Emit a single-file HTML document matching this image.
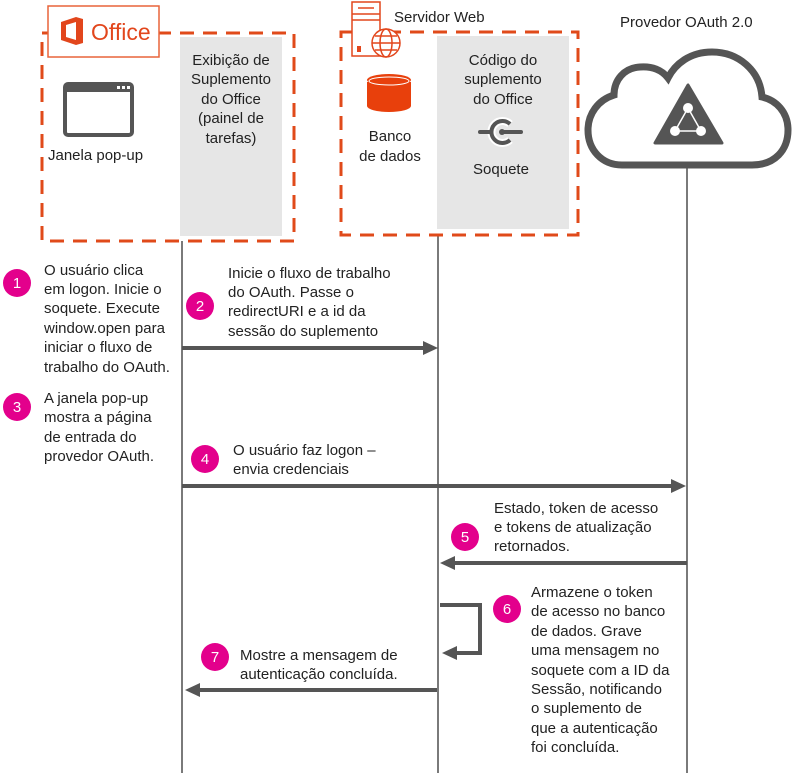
<!DOCTYPE html>
<html><head><meta charset="utf-8"><style>
html,body{margin:0;padding:0;background:#fff;}
svg{display:block;font-family:"Liberation Sans",sans-serif;}
</style></head><body>
<svg width="798" height="773" viewBox="0 0 798 773" xmlns="http://www.w3.org/2000/svg">
<!-- lifelines -->
<g stroke="#333" stroke-width="1.3">
<line x1="182" y1="241" x2="182" y2="773"/>
<line x1="438" y1="235" x2="438" y2="773"/>
<line x1="687" y1="168" x2="687" y2="773"/>
</g>
<!-- Office box -->
<rect x="180" y="37" width="102" height="199" fill="#e6e6e6"/>
<rect x="42" y="33" width="252" height="208" fill="none" stroke="#e04a1a" stroke-width="3" stroke-dasharray="14,9"/>
<rect x="48" y="6" width="111" height="51" fill="#fff" stroke="#e8643a" stroke-width="1.5"/>
<path d="M61,22 L76,17 L83,19 L83,43 L76,45 L61,40 Z M66,25 L66,37 L76,40 L76,22 Z" fill="#e2461c" fill-rule="evenodd"/>
<text x="91" y="40" font-size="23" fill="#e2461c">Office</text>
<!-- popup icon -->
<rect x="65" y="84" width="67" height="51" rx="3" fill="#fff" stroke="#555" stroke-width="4"/>
<rect x="65" y="84" width="67" height="8" fill="#555"/>
<rect x="117" y="86" width="3" height="3" fill="#fff"/><rect x="122" y="86" width="3" height="3" fill="#fff"/><rect x="127" y="86" width="3" height="3" fill="#fff"/>
<text x="48" y="160" font-size="15" fill="#222">Janela pop-up</text>
<g font-size="15" fill="#222" text-anchor="middle">
<text x="231" y="65">Exibição de</text>
<text x="231" y="84">Suplemento</text>
<text x="231" y="104">do Office</text>
<text x="231" y="123">(painel de</text>
<text x="231" y="143">tarefas)</text>
</g>
<!-- Server box -->
<rect x="437" y="36" width="132" height="193" fill="#e6e6e6"/>
<rect x="341" y="32" width="237" height="203" fill="none" stroke="#e04a1a" stroke-width="3" stroke-dasharray="14,9"/>
<rect x="352" y="2" width="28" height="54" fill="#fff" stroke="#e2461c" stroke-width="1.5"/>
<line x1="358" y1="8" x2="374" y2="8" stroke="#e2461c" stroke-width="1.5"/>
<line x1="352" y1="14" x2="380" y2="14" stroke="#e2461c" stroke-width="1.5"/>
<line x1="352" y1="20" x2="380" y2="20" stroke="#e2461c" stroke-width="1.5"/>
<rect x="357" y="46" width="4" height="6" fill="#e2461c"/>
<circle cx="386" cy="43" r="14" fill="#fff" stroke="#e2461c" stroke-width="1.5"/>
<ellipse cx="386" cy="43" rx="6" ry="14" fill="none" stroke="#e2461c" stroke-width="1.5"/>
<line x1="372" y1="43" x2="400" y2="43" stroke="#e2461c" stroke-width="1.5"/>
<line x1="375" y1="36" x2="397" y2="36" stroke="#e2461c" stroke-width="1.5"/>
<line x1="375" y1="50" x2="397" y2="50" stroke="#e2461c" stroke-width="1.5"/>
<text x="394" y="22" font-size="15" fill="#222">Servidor Web</text>
<!-- database -->
<path d="M367,82 L367,106 A22,6 0 0 0 411,106 L411,82 Z" fill="#e8400c"/>
<ellipse cx="389" cy="80" rx="22" ry="6" fill="#e8400c"/>
<ellipse cx="389" cy="81" rx="20" ry="4" fill="none" stroke="#fff" stroke-width="1"/>
<text x="390" y="141" font-size="15" fill="#222" text-anchor="middle">Banco</text>
<text x="390" y="161" font-size="15" fill="#222" text-anchor="middle">de dados</text>
<g font-size="15" fill="#222" text-anchor="middle">
<text x="503" y="65">Código do</text>
<text x="503" y="84">suplemento</text>
<text x="503" y="104">do Office</text>
<text x="501" y="174">Soquete</text>
</g>
<!-- socket icon -->
<path d="M510,124 A11,11 0 1 0 510,140" fill="none" stroke="#fff" stroke-width="8"/>
<path d="M510,124 A11,11 0 1 0 510,140" fill="none" stroke="#555" stroke-width="4"/>
<line x1="480" y1="132" x2="490" y2="132" stroke="#555" stroke-width="4" stroke-linecap="round"/>
<line x1="502" y1="132" x2="521" y2="132" stroke="#555" stroke-width="4" stroke-linecap="round"/>
<circle cx="502" cy="132" r="3" fill="#555"/>
<!-- OAuth -->
<text x="620" y="27" font-size="15" fill="#222">Provedor OAuth 2.0</text>
<path d="M622,165 H752 C775,165 788,150 788,130 C788,112 776,100 762,97 C760,70 738,52 712,52 C690,52 675,64 668,78 C662,70 652,66 640,67 C624,68 614,80 614,95 C598,100 588,114 588,130 C588,150 602,165 622,165 Z" fill="#fff" stroke="#555" stroke-width="7"/>
<path d="M688,85 L655,143 L722,143 Z" fill="#555" stroke="#555" stroke-width="3" stroke-linejoin="round"/>
<circle cx="688" cy="108" r="5" fill="#fff"/><circle cx="675" cy="131" r="5" fill="#fff"/><circle cx="701" cy="131" r="5" fill="#fff"/>
<g stroke="#fff" stroke-width="1.5"><line x1="688" y1="108" x2="675" y2="131"/><line x1="688" y1="108" x2="701" y2="131"/><line x1="675" y1="131" x2="701" y2="131"/></g>
<!-- arrows -->
<g stroke="#555" stroke-width="4" fill="none">
<line x1="182" y1="348" x2="426" y2="348"/>
<line x1="182" y1="486" x2="675" y2="486"/>
<line x1="687" y1="563" x2="452" y2="563"/>
<polyline points="440,605 480,605 480,653 455,653"/>
<line x1="437" y1="690" x2="197" y2="690"/>
</g>
<g fill="#555">
<path d="M438,348 L423,341 L423,355 Z"/>
<path d="M686,486 L671,479 L671,493 Z"/>
<path d="M440,563 L455,556 L455,570 Z"/>
<path d="M442,653 L457,646 L457,660 Z"/>
<path d="M185,690 L200,683 L200,697 Z"/>
</g>
<!-- circles -->
<g fill="#e3008c">
<circle cx="17" cy="283" r="14"/><circle cx="200" cy="306" r="14"/><circle cx="17" cy="407" r="14"/>
<circle cx="205" cy="459" r="14"/><circle cx="465" cy="537" r="14"/><circle cx="507" cy="609" r="14"/><circle cx="215" cy="657" r="14"/>
</g>
<g fill="#fff" font-size="15" text-anchor="middle">
<text x="17" y="288">1</text><text x="200" y="311">2</text><text x="17" y="412">3</text>
<text x="205" y="464">4</text><text x="465" y="542">5</text><text x="507" y="614">6</text><text x="215" y="662">7</text>
</g>
<!-- texts -->
<g font-size="15" fill="#222">
<text x="44" y="275">O usuário clica</text>
<text x="44" y="294">em logon. Inicie o</text>
<text x="44" y="313">soquete. Execute</text>
<text x="44" y="333">window.open para</text>
<text x="44" y="352">iniciar o fluxo de</text>
<text x="44" y="372">trabalho do OAuth.</text>
<text x="228" y="278">Inicie o fluxo de trabalho</text>
<text x="228" y="297">do OAuth. Passe o</text>
<text x="228" y="316">redirectURI e a id da</text>
<text x="228" y="336">sessão do suplemento</text>
<text x="44" y="403">A janela pop-up</text>
<text x="44" y="422">mostra a página</text>
<text x="44" y="442">de entrada do</text>
<text x="44" y="461">provedor OAuth.</text>
<text x="233" y="455">O usuário faz logon –</text>
<text x="233" y="474">envia credenciais</text>
<text x="494" y="513">Estado, token de acesso</text>
<text x="494" y="532">e tokens de atualização</text>
<text x="494" y="551">retornados.</text>
<text x="531" y="597">Armazene o token</text>
<text x="531" y="616">de acesso no banco</text>
<text x="531" y="636">de dados. Grave</text>
<text x="531" y="655">uma mensagem no</text>
<text x="531" y="675">soquete com a ID da</text>
<text x="531" y="694">Sessão, notificando</text>
<text x="531" y="713">o suplemento de</text>
<text x="531" y="733">que a autenticação</text>
<text x="531" y="752">foi concluída.</text>
<text x="240" y="660">Mostre a mensagem de</text>
<text x="240" y="679">autenticação concluída.</text>
</g>
</svg>
</body></html>
